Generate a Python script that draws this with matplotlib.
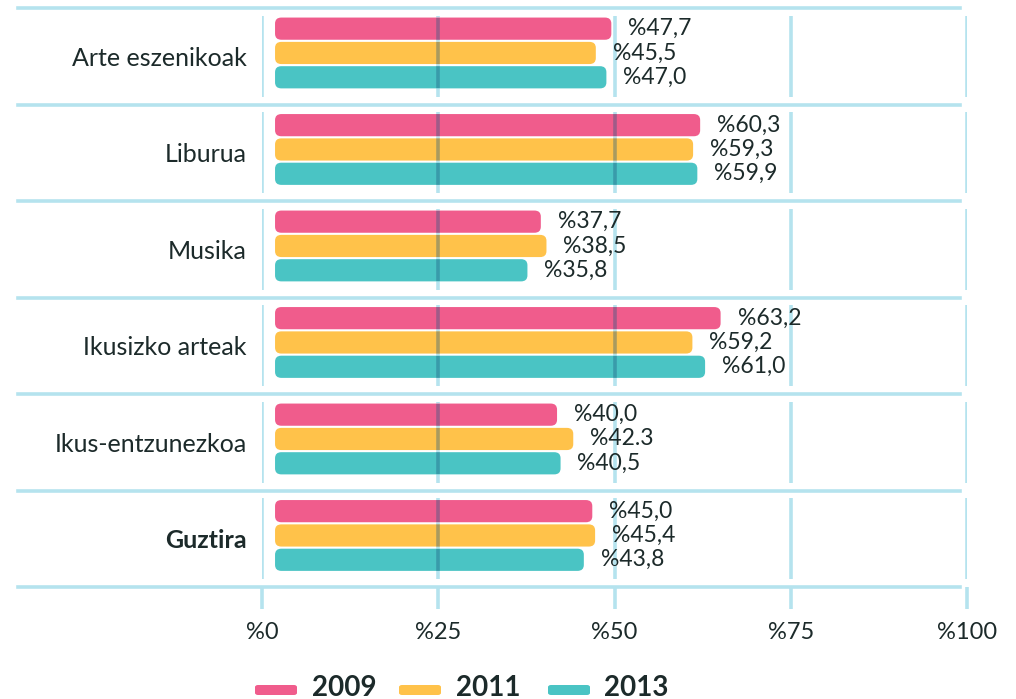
import matplotlib
matplotlib.use("Agg")
import matplotlib.pyplot as plt
from matplotlib.patches import FancyBboxPatch

categories = ["Arte eszenikoak", "Liburua", "Musika", "Ikusizko arteak",
              "Ikus-entzunezkoa", "Guztira"]
years = ["2009", "2011", "2013"]
v2009 = [47.7, 60.3, 37.7, 63.2, 40.0, 45.0]
v2011 = [45.5, 59.3, 38.5, 59.2, 42.3, 45.4]
v2013 = [47.0, 59.9, 35.8, 61.0, 40.5, 43.8]
# the source writes one value with a point instead of a comma
label_fix = {(4, 1): "%42.3"}
xticks = [0, 25, 50, 75, 100]
xticklabels = ["%0", "%25", "%50", "%75", "%100"]

colors = ["#f05c8c", "#ffc24a", "#4ac4c4"]
line_c = "#b5e3ee"
text_c = "#1c2a2a"
FONT = "Lato"

W, H = 1016, 699
fig = plt.figure(figsize=(W / 100, H / 100), dpi=100)
ax = fig.add_axes([262 / W, 112 / H, 705 / W, 579 / H])
ax.set_xlim(0, 100)
ax.set_ylim(6, 0)

series = [v2009, v2011, v2013]
offsets = [-0.286, -0.034, 0.218]
bar_h = 0.23
left = 1.85

for s, (vals, off, col) in enumerate(zip(series, offsets, colors)):
    ys = [i + 0.5 + off for i in range(len(categories))]
    bars = ax.barh(ys, vals, height=bar_h, left=left, color=col)
    for i, b in enumerate(bars):
        x0, y0 = b.get_x(), b.get_y()
        w, h = b.get_width(), b.get_height()
        b.set_visible(False)
        r = 0.9
        p = FancyBboxPatch((x0, y0), w, h,
                           boxstyle=f"round,pad=0,rounding_size={r}",
                           mutation_aspect=0.062 / r,
                           fc=col, ec="none", zorder=2)
        ax.add_patch(p)
        # darker grid line where it crosses the bar
        seg = ax.vlines(xticks, y0, y0 + h, color="#1e5a82", alpha=0.38,
                        lw=2.6, zorder=3)
        seg.set_clip_path(p)
        lab = label_fix.get((i, s), "%" + f"{vals[i]:.1f}".replace(".", ","))
        ax.text(x0 + w + 2.4, y0 + h / 2, lab, ha="left", va="center",
                fontsize=16.5, color=text_c, family=FONT)

# group separators
for k in range(len(categories) + 1):
    ax.axhline(k, xmin=-0.346, xmax=0.99, color=line_c, lw=2.6,
               clip_on=False, zorder=1)

# vertical grid segments
for i in range(len(categories)):
    ax.vlines(xticks, i + 0.08, i + 0.92, color=line_c, lw=2.6, zorder=1)

ax.set_yticks([i + 0.5 for i in range(len(categories))])
ax.set_yticklabels(categories)
for i, t in enumerate(ax.get_yticklabels()):
    t.set_family(FONT)
    t.set_fontsize(18)
    t.set_color(text_c)
    if categories[i] == "Guztira":
        t.set_fontweight("bold")
ax.tick_params(axis="y", length=0, pad=11)

ax.set_xticks(xticks)
ax.set_xticklabels(xticklabels, family=FONT, fontsize=17, color=text_c)
ax.tick_params(axis="x", direction="out", length=16, width=2.6,
               color=line_c, pad=9)

for sp in ax.spines.values():
    sp.set_visible(False)

# legend
leg_patch_x = [255, 399, 548]
leg_text_x = [312, 456, 604]
for px, tx, col, yr in zip(leg_patch_x, leg_text_x, colors, years):
    fig.patches.append(FancyBboxPatch((px / W, (H - 695) / H), 42 / W, 10 / H,
                                      boxstyle="round,pad=0,rounding_size=0.003",
                                      fc=col, ec="none",
                                      transform=fig.transFigure, figure=fig))
    fig.text(tx / W, (H - 688) / H, yr, ha="left", va="center", fontsize=20,
             fontweight="bold", color=text_c, family=FONT)

fig.savefig("out.png", dpi=100)
